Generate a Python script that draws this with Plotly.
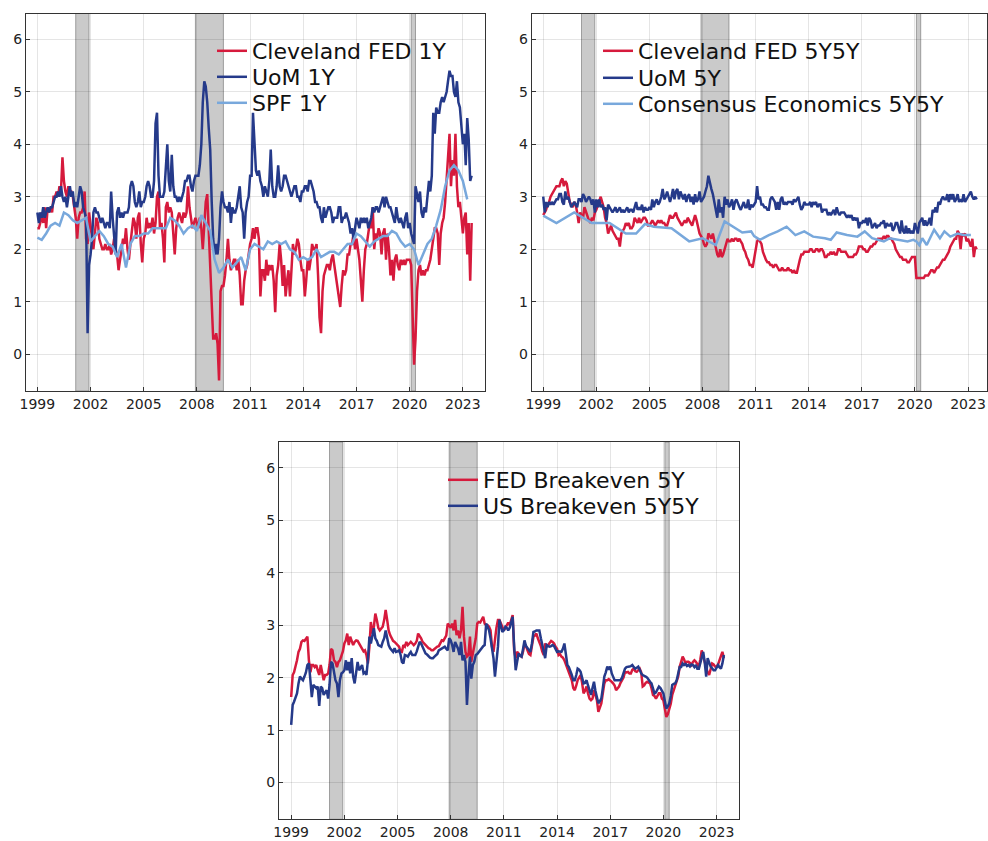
import pandas as pd
import plotly.graph_objects as go

# ---------------- data ----------------
cleveland_1y = [
    2.4,2.4,2.5,2.7,2.5,2.8,2.4,2.8,2.7,2.8,2.7,3.0,
    3.0,3.1,3.0,3.2,3.1,3.75,3.3,3.1,3.0,3.2,3.1,3.1,
    3.0,2.8,2.6,2.2,2.6,2.7,2.7,2.8,3.1,2.2,2.1,2.7,
    2.4,2.2,2.0,2.3,2.6,2.5,2.2,2.1,2.0,2.0,2.1,2.0,
    2.0,2.1,1.9,2.0,2.2,2.0,1.9,1.6,1.8,1.9,2.2,2.1,
    2.4,2.0,1.8,2.1,2.3,2.6,2.5,2.2,2.6,2.7,2.1,1.75,
    2.2,2.3,2.6,2.4,2.5,2.4,2.6,2.3,2.5,3.0,3.1,2.4,
    2.5,2.2,1.75,2.8,2.9,2.7,2.8,2.7,2.3,1.9,2.4,2.6,
    2.7,2.6,2.5,2.7,2.6,2.7,3.2,2.8,2.6,2.4,2.5,2.6,
    2.5,2.4,2.6,2.4,2.0,2.6,2.9,3.05,2.4,1.7,0.9,0.3,
    0.3,0.4,0.2,-0.5,1.2,1.3,1.3,1.5,1.8,2.2,1.8,1.6,
    1.7,1.8,1.8,1.6,1.8,1.5,0.95,0.95,1.4,1.6,1.7,1.9,
    2.1,2.2,2.4,2.2,2.4,2.4,2.2,1.1,1.6,1.6,1.4,1.8,
    1.5,1.7,1.6,1.7,1.4,0.8,1.5,1.7,2.1,1.8,1.3,1.7,
    1.1,1.4,1.6,1.1,1.6,2.1,1.9,2.0,2.2,2.1,1.8,1.6,
    1.6,1.1,1.4,1.8,1.6,1.8,2.1,2.0,2.0,2.1,1.5,0.7,
    0.4,1.2,1.5,1.6,1.7,1.7,1.6,1.8,1.9,1.7,1.5,1.3,
    1.1,0.9,1.3,1.6,1.5,1.6,1.9,1.9,2.1,2.1,2.3,2.0,
    2.2,2.0,1.8,1.4,1.0,1.6,2.0,2.1,2.3,2.5,2.4,2.8,
    2.0,2.3,2.2,2.4,2.3,1.9,2.3,2.4,1.8,2.3,2.0,1.5,
    1.8,1.4,1.8,1.9,1.7,1.6,1.8,1.7,1.8,1.7,1.8,1.8,
    1.8,1.7,0.5,-0.2,0.3,1.2,1.6,1.7,1.5,1.6,1.5,1.6,
    1.6,1.7,1.8,2.0,2.2,2.4,2.4,2.3,1.7,2.3,2.5,2.6,
    2.9,3.3,3.6,4.2,3.2,3.7,3.4,4.2,3.2,2.8,2.9,2.6,
    2.3,2.6,2.7,1.9,2.5,1.4,2.5,
]
uom_1y = [
    2.7,2.5,2.7,2.6,2.8,2.6,2.7,2.8,2.7,2.8,2.8,2.9,
    3.0,3.0,3.1,3.0,3.2,3.0,2.9,3.0,2.8,3.0,3.2,3.0,
    3.1,2.8,2.9,2.8,3.0,3.2,3.1,2.8,2.7,2.6,0.4,1.7,
    1.9,2.2,2.7,2.8,2.7,2.7,2.6,2.5,2.6,2.5,2.4,2.5,
    2.5,2.4,3.1,2.6,2.2,1.9,2.7,2.8,2.6,2.7,2.6,2.7,
    2.7,2.7,2.8,3.2,3.3,3.2,2.9,2.8,2.9,3.1,2.8,2.9,
    2.9,3.0,3.2,3.3,3.2,3.0,3.0,3.3,4.4,4.6,3.4,3.0,
    3.0,3.0,3.1,3.5,4.0,3.3,3.1,3.8,3.2,3.0,3.0,2.9,
    3.0,2.9,3.0,3.1,3.3,3.3,3.4,3.4,3.2,3.1,3.3,3.4,
    3.4,3.4,3.6,4.0,4.8,5.2,5.1,4.8,4.3,3.9,2.9,2.2,
    1.9,2.1,1.9,2.2,2.8,3.1,2.9,2.8,2.8,2.7,2.9,2.5,
    2.8,2.7,2.7,2.8,3.0,3.2,2.8,2.7,2.2,2.7,2.9,3.0,
    3.4,3.4,4.6,4.0,3.5,3.4,3.5,3.3,3.2,3.0,3.2,3.1,
    3.0,3.3,3.9,3.2,3.0,3.0,3.2,3.6,3.2,3.1,3.2,3.4,
    3.4,3.3,3.2,3.1,3.0,3.1,3.2,3.2,3.0,3.0,2.9,3.1,
    3.1,3.2,3.2,3.1,3.3,3.3,3.2,3.1,2.9,2.9,2.8,2.8,
    2.6,2.5,2.8,2.6,2.7,2.8,2.8,2.7,2.5,2.6,2.6,2.6,
    2.8,2.8,2.5,2.6,2.6,2.7,2.6,2.5,2.3,2.4,2.2,2.4,
    2.6,2.5,2.4,2.6,2.5,2.6,2.5,2.6,2.4,2.5,2.6,2.8,
    2.7,2.8,2.8,2.7,2.8,2.9,3.0,2.8,3.0,2.9,2.8,2.8,
    2.7,2.6,2.5,2.8,2.6,2.5,2.6,2.5,2.4,2.6,2.7,2.4,
    2.5,2.3,2.2,2.1,3.2,3.0,2.9,3.1,2.7,2.6,2.8,2.7,
    3.0,3.3,3.1,3.4,4.6,4.2,4.7,4.6,4.6,4.8,4.9,4.8,
    4.9,5.0,5.2,5.4,5.3,5.3,5.0,4.9,5.2,4.8,4.7,4.4,
    4.0,4.2,3.6,4.5,4.1,3.3,3.4,
]
spf_1y = [
    2.22,2.18,2.3,2.45,
    2.5,2.45,2.7,2.65,
    2.55,2.5,2.55,2.6,
    2.15,2.25,2.35,2.25,
    2.1,2.05,1.85,2.1,
    1.65,2.1,2.25,2.25,
    2.3,2.3,2.4,2.4,
    2.4,2.4,2.6,2.55,
    2.45,2.3,2.4,2.45,
    2.35,2.65,2.5,2.35,
    1.8,1.55,1.65,1.8,
    1.65,1.75,1.85,1.6,
    2.0,2.1,2.05,2.0,
    2.15,2.1,2.15,2.1,
    2.15,2.0,1.95,1.8,
    1.85,1.8,1.85,2.0,
    1.85,1.9,1.95,1.95,
    1.9,2.0,2.1,2.1,
    2.3,2.25,2.15,2.05,
    2.15,2.2,2.25,2.25,
    2.35,2.3,2.15,2.05,
    2.1,2.0,1.7,1.9,
    2.1,2.2,2.45,2.75,
    3.2,3.5,3.6,3.5,
    3.3,2.95,
]

cleveland_5y5y = [
    2.65,2.7,2.75,2.85,2.9,3.0,3.05,3.1,3.15,3.2,3.2,3.2,
    3.3,3.35,3.2,3.3,3.25,3.1,2.9,2.85,2.8,2.9,2.85,2.7,
    2.5,2.7,2.65,2.6,2.8,2.7,2.6,2.55,2.5,2.6,2.55,2.7,
    2.75,2.85,2.9,3.0,2.9,2.8,2.6,2.5,2.3,2.4,2.45,2.35,
    2.3,2.25,2.2,2.2,2.05,2.3,2.35,2.4,2.5,2.45,2.5,2.4,
    2.4,2.45,2.6,2.55,2.5,2.6,2.5,2.55,2.6,2.6,2.55,2.45,
    2.45,2.5,2.55,2.5,2.45,2.5,2.55,2.5,2.55,2.5,2.5,2.45,
    2.45,2.55,2.65,2.6,2.6,2.65,2.7,2.6,2.55,2.5,2.45,2.5,
    2.55,2.5,2.6,2.55,2.5,2.45,2.55,2.65,2.55,2.4,2.3,2.25,
    2.2,2.1,2.05,2.1,2.3,2.25,2.2,2.3,2.15,2.0,1.9,1.85,
    2.0,1.85,1.9,2.0,2.1,2.2,2.15,2.15,2.2,2.15,2.2,2.2,
    2.15,2.2,2.15,2.1,2.0,1.95,1.85,1.8,1.7,1.7,1.65,1.8,
    2.0,2.15,2.2,2.15,2.1,1.95,1.85,1.8,1.75,1.75,1.7,1.7,
    1.65,1.7,1.7,1.65,1.6,1.6,1.65,1.6,1.6,1.6,1.65,1.6,
    1.6,1.55,1.6,1.55,1.55,1.7,1.8,1.9,1.9,1.95,1.95,1.95,
    1.95,2.0,2.0,1.95,1.95,2.0,2.0,1.95,2.0,2.0,1.95,1.85,
    1.85,1.9,1.9,1.95,1.9,1.95,1.9,1.9,2.0,2.0,1.95,1.95,
    1.95,1.95,1.9,1.85,1.85,1.85,1.85,1.9,1.9,1.95,2.05,2.05,
    2.05,2.0,2.0,1.95,1.95,2.0,2.05,2.05,2.1,2.1,2.15,2.2,
    2.2,2.2,2.2,2.25,2.2,2.25,2.25,2.2,2.2,2.15,2.1,2.0,
    1.95,1.9,1.85,1.85,1.8,1.8,1.8,1.75,1.75,1.8,1.85,1.85,
    1.85,1.45,1.45,1.45,1.45,1.45,1.45,1.5,1.5,1.5,1.55,1.6,
    1.6,1.55,1.6,1.65,1.65,1.7,1.75,1.8,1.8,1.85,1.9,1.95,
    2.05,2.1,2.15,2.2,2.2,2.35,2.3,2.0,2.3,2.25,2.3,2.15,
    2.2,2.1,2.05,2.2,1.85,2.05,2.0,
]
uom_5y = [
    3.0,2.7,2.9,2.8,2.9,2.85,2.9,2.85,2.9,2.95,2.95,3.05,
    3.05,2.9,2.85,3.1,2.95,3.0,2.9,2.8,2.85,2.9,2.85,2.8,
    2.95,2.95,2.9,3.05,3.0,2.9,2.95,3.0,2.95,2.85,2.95,2.7,
    2.95,2.8,2.95,2.8,2.85,2.75,2.8,2.55,2.85,2.8,2.75,2.7,
    2.75,2.8,2.7,2.75,2.8,2.7,2.75,2.7,2.75,2.8,2.7,2.75,
    2.75,2.7,2.8,2.9,2.75,2.8,2.75,2.85,2.7,2.8,2.75,2.75,
    2.8,2.75,2.95,2.8,2.9,2.95,2.85,2.9,3.0,3.15,2.95,3.0,
    3.1,3.0,2.9,3.0,3.15,2.95,3.1,3.15,2.95,3.1,3.0,2.95,
    3.05,2.9,3.0,3.05,2.9,3.0,2.85,3.05,2.9,2.95,3.1,2.9,
    2.95,3.0,3.1,3.2,3.4,3.25,3.15,3.05,2.9,2.8,2.6,2.95,
    2.7,2.8,2.6,3.0,2.85,2.95,2.8,2.85,2.95,2.75,2.9,2.95,
    2.85,2.8,2.75,2.85,2.9,2.8,2.8,2.95,2.75,2.85,2.8,2.85,
    2.9,3.2,2.95,3.0,2.85,2.85,2.8,2.8,2.75,2.75,2.95,3.0,
    2.95,2.9,2.75,2.9,2.75,2.95,3.0,2.85,2.9,2.85,2.9,2.9,
    2.9,2.85,2.95,2.9,2.95,3.0,2.85,2.75,2.8,2.9,2.85,2.85,
    2.85,2.9,2.8,2.9,2.85,2.9,2.8,2.85,2.85,2.7,2.75,2.75,
    2.75,2.65,2.7,2.65,2.7,2.75,2.65,2.8,2.7,2.65,2.7,2.7,
    2.7,2.65,2.6,2.65,2.6,2.65,2.55,2.6,2.55,2.6,2.4,2.5,
    2.5,2.55,2.5,2.6,2.45,2.6,2.55,2.4,2.45,2.5,2.4,2.45,
    2.45,2.5,2.5,2.55,2.4,2.5,2.45,2.45,2.5,2.35,2.4,2.5,
    2.5,2.4,2.3,2.55,2.35,2.3,2.45,2.3,2.4,2.3,2.35,2.3,
    2.5,2.4,2.3,2.5,2.55,2.6,2.45,2.55,2.45,2.5,2.6,2.45,
    2.75,2.7,2.8,2.7,2.9,2.85,2.95,3.0,2.95,2.95,3.05,2.9,
    3.05,2.95,3.05,2.9,2.95,3.05,2.9,2.95,2.9,3.05,2.9,2.95,
    3.0,3.05,3.1,3.0,2.95,3.0,2.95,
]
consensus_dates = [
    "1999-01-01","1999-10-01","2000-10-01","2001-10-01","2002-10-01","2003-09-01",
    "2004-04-01","2004-10-01","2005-04-01","2006-04-01","2007-04-01","2008-01-01",
    "2008-10-01","2009-04-01","2010-04-01","2010-10-01","2010-12-01","2011-04-01",
    "2011-10-01","2012-04-01","2012-10-01","2013-04-01","2013-10-01","2014-04-01",
    "2014-12-01","2015-04-01","2015-08-01","2016-03-01","2016-10-01","2017-03-01",
    "2017-08-01","2018-01-01","2018-04-01","2018-08-01","2019-01-01","2019-08-01",
    "2019-12-01","2020-02-01","2020-04-01","2020-06-01","2020-09-01","2021-02-01",
    "2021-06-01","2021-09-01","2022-01-01","2022-06-01","2022-10-01","2023-03-01",
]
consensus_5y5y = [
    2.64,2.50,2.70,2.50,2.50,2.30,
    2.30,2.48,2.43,2.40,2.15,2.21,
    2.08,2.53,2.32,2.34,2.25,2.18,
    2.27,2.34,2.43,2.27,2.34,2.24,
    2.21,2.18,2.32,2.27,2.24,2.34,
    2.21,2.18,2.15,2.21,2.18,2.15,
    2.18,2.15,2.08,2.21,2.08,2.37,
    2.21,2.34,2.24,2.30,2.27,2.27,
]

fed_breakeven_5y = [
    1.63,2.05,2.1,2.2,2.33,2.49,2.55,2.68,2.71,2.7,2.75,2.78,
    2.33,2.1,2.24,2.24,2.2,2.24,2.14,2.05,2.24,2.11,1.95,2.05,
    2.05,2.08,2.24,2.55,2.52,2.33,2.3,2.2,2.3,2.33,2.4,2.5,
    2.65,2.71,2.84,2.62,2.78,2.7,2.62,2.68,2.71,2.7,2.65,2.6,
    2.55,2.5,2.52,2.43,2.27,2.59,3.06,2.84,2.97,3.22,3.1,2.95,
    2.9,2.95,2.97,3.1,3.29,3.1,2.9,2.81,2.75,2.7,2.68,2.65,
    2.62,2.59,2.5,2.49,2.62,2.59,2.68,2.62,2.65,2.68,2.65,2.62,
    2.65,2.7,2.84,2.8,2.75,2.68,2.65,2.62,2.6,2.56,2.55,2.52,
    2.52,2.55,2.56,2.59,2.6,2.65,2.71,2.7,2.75,2.8,3.03,3.0,
    2.95,3.03,2.9,3.1,2.81,2.9,2.75,2.9,3.35,2.78,2.49,2.4,
    2.43,2.78,2.3,2.46,2.6,2.75,3.03,3.06,3.05,3.1,3.16,3.03,
    3.0,3.0,2.97,2.9,2.59,2.49,2.78,2.95,3.1,3.1,3.03,2.97,
    2.9,2.95,3.0,3.05,3.0,3.13,3.19,2.52,2.37,2.49,2.45,2.42,
    2.4,2.5,2.65,2.6,2.52,2.45,2.43,2.6,2.78,2.8,2.84,2.75,
    2.68,2.6,2.5,2.43,2.65,2.6,2.62,2.65,2.7,2.68,2.65,2.59,
    2.55,2.43,2.45,2.4,2.38,2.33,2.25,2.17,2.1,2.02,1.95,1.8,
    1.76,1.85,1.95,2.0,2.05,1.9,1.7,1.75,1.83,1.7,1.6,1.57,
    1.6,1.76,1.65,1.57,1.35,1.45,1.51,1.7,1.89,1.95,1.95,1.97,
    1.95,1.92,1.89,1.85,1.76,1.8,1.83,1.9,1.95,2.0,2.11,2.1,
    2.11,2.08,2.08,2.15,2.17,2.12,2.11,2.15,2.17,2.1,1.83,1.85,
    1.9,1.92,1.9,1.89,1.8,1.67,1.65,1.6,1.65,1.7,1.7,1.6,
    1.57,1.35,1.25,1.3,1.38,1.5,1.67,1.75,1.83,1.9,2.02,2.2,
    2.3,2.4,2.35,2.27,2.3,2.3,2.28,2.24,2.3,2.33,2.3,2.25,
    2.21,2.35,2.52,2.4,2.3,2.17,2.1,2.05,2.15,2.27,2.25,2.21,
    2.21,2.25,2.33,2.4,2.49,2.37,
]
us_breakeven_5y5y = [
    1.1,1.48,1.54,1.62,1.7,1.89,2.02,1.98,1.95,2.02,2.1,2.24,
    2.27,1.95,1.63,1.86,1.82,1.8,1.83,1.46,1.83,1.8,1.67,1.72,
    1.76,1.6,1.86,2.3,2.27,2.11,1.95,1.89,1.63,1.95,2.08,2.1,
    2.14,2.33,2.14,2.3,2.08,2.37,2.02,1.89,2.14,2.3,2.14,2.2,
    2.24,2.08,2.1,2.05,2.33,2.78,2.65,2.8,2.94,2.75,2.7,2.62,
    2.6,2.59,2.68,2.75,2.9,2.75,2.62,2.56,2.52,2.49,2.56,2.49,
    2.5,2.52,2.45,2.3,2.27,2.43,2.42,2.4,2.45,2.49,2.43,2.43,
    2.43,2.5,2.59,2.68,2.65,2.59,2.52,2.46,2.44,2.4,2.38,2.37,
    2.37,2.4,2.43,2.45,2.52,2.54,2.56,2.58,2.59,2.55,2.52,2.75,
    2.71,2.62,2.49,2.68,2.62,2.55,2.43,2.68,2.33,2.43,2.3,1.48,
    2.02,2.4,1.98,2.24,2.3,2.43,2.45,2.49,2.52,2.56,2.6,2.62,
    3.03,2.97,2.9,2.75,2.52,2.37,2.02,2.3,2.59,3.1,3.0,2.87,
    2.9,2.97,2.95,2.9,2.95,3.05,3.16,2.59,2.14,2.3,2.46,2.42,
    2.4,2.55,2.71,2.6,2.56,2.52,2.49,2.65,2.87,2.88,2.9,2.9,
    2.9,2.75,2.6,2.5,2.37,2.62,2.6,2.59,2.6,2.62,2.6,2.55,
    2.49,2.5,2.49,2.49,2.55,2.65,2.45,2.24,2.2,2.14,2.05,1.95,
    1.95,2.05,2.17,2.15,2.11,2.0,1.89,1.9,1.95,1.85,1.75,1.67,
    1.8,1.92,1.75,1.63,1.51,1.55,1.6,1.8,2.02,2.1,2.21,2.15,
    2.21,2.08,2.0,1.95,1.95,1.95,1.95,1.95,2.0,2.1,2.17,2.2,
    2.2,2.21,2.22,2.24,2.2,2.17,2.19,2.21,2.15,2.08,2.05,2.04,
    2.02,2.0,1.95,1.92,1.89,1.8,1.7,1.72,1.78,1.83,1.8,1.75,
    1.7,1.55,1.41,1.45,1.51,1.65,1.86,1.88,1.89,1.95,2.08,2.2,
    2.2,2.27,2.24,2.26,2.22,2.24,2.21,2.25,2.24,2.2,2.24,2.17,
    2.17,2.27,2.35,2.49,2.3,2.02,2.37,2.3,2.21,2.18,2.14,2.14,
    2.2,2.24,2.2,2.17,2.27,2.43,
]

recession_starts = ["2001-03-01", "2007-12-01", "2020-02-01"]
recession_ends = ["2001-11-30", "2009-06-30", "2020-04-30"]

year_ticks = [1999, 2002, 2005, 2008, 2011, 2014, 2017, 2020, 2023]
y_ticks = [0, 1, 2, 3, 4, 5, 6]


def months(n):
    return pd.date_range("1999-01-01", periods=n, freq="MS")


def quarters(n):
    return pd.date_range("1999-01-01", periods=n, freq="QS")


RED = "#d61a3c"
DARK = "#253a8a"
LIGHT = "#78a8dc"
LW = 2.5

# the page's body margin is removed (see post_script), so figure px == page px
W, H = 988, 841


def px_x(p):
    return p / W


def px_y(p):
    return 1 - p / H


fig = go.Figure()
# (name, x, y, color, xaxis, yaxis, legend row centre y, legend text left x)
series = [
    ("Cleveland FED 1Y", months(len(cleveland_1y)), cleveland_1y, RED, "x", "y", 52, 252),
    ("UoM 1Y", months(len(uom_1y)), uom_1y, DARK, "x", "y", 78, 252),
    ("SPF 1Y", quarters(len(spf_1y)), spf_1y, LIGHT, "x", "y", 104, 252),
    ("Cleveland FED 5Y5Y", months(len(cleveland_5y5y)), cleveland_5y5y, RED, "x2", "y2", 52, 638),
    ("UoM 5Y", months(len(uom_5y)), uom_5y, DARK, "x2", "y2", 79, 638),
    ("Consensus Economics 5Y5Y", pd.to_datetime(consensus_dates), consensus_5y5y, LIGHT, "x2", "y2", 105, 638),
    ("FED Breakeven 5Y", months(len(fed_breakeven_5y)), fed_breakeven_5y, RED, "x3", "y3", 481, 483),
    ("US Breakeven 5Y5Y", months(len(us_breakeven_5y5y)), us_breakeven_5y5y, DARK, "x3", "y3", 507, 483),
]

legfont = dict(family="DejaVu Sans", size=22, color="#111")
legends = {}
for i, (name, xs, ys, col, xa, ya, ly, lx) in enumerate(series):
    lname = "legend" if i == 0 else f"legend{i + 1}"
    fig.add_trace(go.Scatter(x=xs, y=ys, mode="lines", name=name,
                             line=dict(color=col, width=LW),
                             xaxis=xa, yaxis=ya, legend=lname))
    legends[lname] = dict(x=px_x(lx - 40), y=px_y(ly - 22), xanchor="left", yanchor="top",
                          bgcolor="rgba(0,0,0,0)", borderwidth=0, font=legfont,
                          tracegroupgap=0, itemwidth=30)

# recession bands
for ax in ["", "2", "3"]:
    for s, e in zip(recession_starts, recession_ends):
        fig.add_shape(type="rect", xref="x" + ax, yref="y" + ax + " domain",
                      x0=s, x1=e, y0=0, y1=1, layer="below",
                      fillcolor="rgba(150,150,150,0.5)",
                      line=dict(color="rgba(110,110,110,0.6)", width=1))

tickfont = dict(family="DejaVu Sans", size=14, color="#222")


def xax(domain, rng, anchor):
    return dict(domain=domain, range=rng, anchor=anchor, type="date",
                tickvals=[f"{y}-01-01" for y in year_ticks],
                ticktext=[str(y) for y in year_ticks],
                showgrid=True, gridcolor="rgba(0,0,0,0.1)", gridwidth=1,
                showline=True, linecolor="#333", linewidth=1, mirror=True,
                ticks="inside", ticklen=4, tickcolor="#333",
                tickfont=tickfont, zeroline=False, automargin=False)


def yax(domain, anchor):
    return dict(domain=domain, range=[-0.70, 6.49], anchor=anchor,
                tickvals=y_ticks, ticktext=[str(v) for v in y_ticks],
                showgrid=True, gridcolor="rgba(0,0,0,0.1)", gridwidth=1,
                showline=True, linecolor="#333", linewidth=1, mirror=True,
                ticks="inside", ticklen=4, tickcolor="#333",
                tickfont=tickfont, zeroline=False, automargin=False)


fig.update_layout(
    width=W, height=H,
    margin=dict(l=0, r=0, t=0, b=0, pad=0, autoexpand=False),
    paper_bgcolor="white", plot_bgcolor="white",
    showlegend=True,
    xaxis=xax([px_x(26), px_x(485)], ["1998-05-12", "2024-04-01"], "y"),
    yaxis=yax([px_y(391), px_y(13.5)], "x"),
    xaxis2=xax([px_x(531.7), px_x(987)], ["1998-05-08", "2024-01-28"], "y2"),
    yaxis2=yax([px_y(391), px_y(13.5)], "x2"),
    xaxis3=xax([px_x(279), px_x(738.7)], ["1998-04-25", "2024-04-01"], "y3"),
    yaxis3=yax([px_y(819.3), px_y(442)], "x3"),
    **legends,
)

fig.write_html(
    "out.html",
    config={"displayModeBar": False},
    post_script="document.body.style.margin='0px';"
                "document.body.style.overflow='hidden';"
                "document.documentElement.style.overflow='hidden';",
)
